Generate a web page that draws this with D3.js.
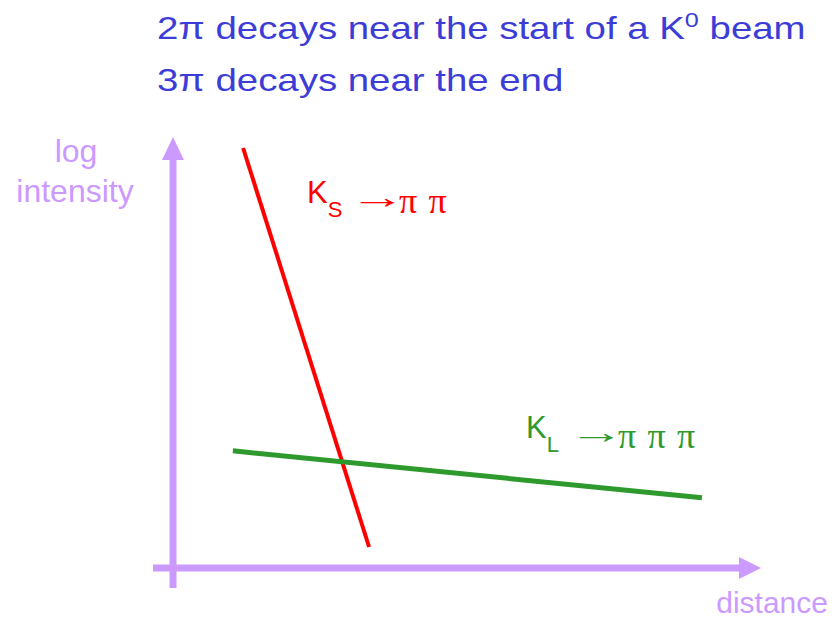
<!DOCTYPE html>
<html>
<head>
<meta charset="utf-8">
<script src="https://cdn.jsdelivr.net/npm/d3@7"></script>
<style>
  body { margin: 0; background: #fff; }
  svg { display: block; font-family: "Liberation Sans", Arial, sans-serif; }
</style>
</head>
<body>
<script>
const width = 834
const height = 618

// title lines
const titleLines = ["2π decays near the start of a K", "3π decays near the end"]

// decay lines in (distance, log intensity) units
const ksLine = [[1.23, 10.0], [3.44, 0.5]]
const klLine = [[1.05, 2.79], [9.28, 1.67]]

const axisColor = "#cc99ff"
const blue = "#3c3cd6"
const red = "#ff0000"
const green = "#2e9a2e"

const x = d3.scaleLinear().domain([0, 10]).range([173, 743])
const y = d3.scaleLinear().domain([0, 10]).range([568, 148])

const svg = d3.select("body").append("svg")
    .attr("width", width)
    .attr("height", height)

// title (text in the slide is a bit wider than plain Arial)
const title = svg.append("g")
    .attr("fill", blue).attr("font-size", 32)
    .attr("transform", "translate(157,0) scale(1.2,1)")
title.append("text")
    .attr("x", 0).attr("y", 39)
    .call(t => {
        t.append("tspan").text(titleLines[0])
        t.append("tspan").attr("font-size", 21).attr("dy", -12).text("0")
        t.append("tspan").attr("dy", 12).text(" beam")
    })
title.append("text")
    .attr("x", 0).attr("y", 91)
    .text(titleLines[1])

// axes
const ax = svg.append("g").attr("stroke", axisColor).attr("stroke-width", 7)
ax.append("line")
    .attr("x1", x(0)).attr("x2", x(0))
    .attr("y1", y(0) + 20).attr("y2", 158)
ax.append("line")
    .attr("x1", x(0) - 20).attr("x2", 741)
    .attr("y1", y(0)).attr("y2", y(0))
svg.append("path")
    .attr("fill", axisColor)
    .attr("d", `M${x(0)},137 L${x(0) + 11},160 L${x(0) - 11},160 Z`)
svg.append("path")
    .attr("fill", axisColor)
    .attr("d", `M761,${y(0)} L739,${y(0) - 11} L739,${y(0) + 11} Z`)

// axis labels
const lab = svg.append("g").attr("fill", axisColor).attr("font-size", 32)
lab.append("text").attr("x", 76).attr("y", 162).attr("text-anchor", "middle").text("log")
lab.append("text").attr("x", 75).attr("y", 202).attr("text-anchor", "middle").text("intensity")
lab.append("text").attr("x", 828).attr("y", 613).attr("font-size", 30)
    .attr("text-anchor", "end").text("distance")

// decay lines
const line = d3.line().x(d => x(d[0])).y(d => y(d[1]))
svg.append("path").datum(ksLine)
    .attr("fill", "none").attr("stroke", red).attr("stroke-width", 4)
    .attr("d", line)
svg.append("path").datum(klLine)
    .attr("fill", "none").attr("stroke", green).attr("stroke-width", 5)
    .attr("d", line)

// labels: K, subscript, then arrow and pions in one serif text
function kLabel(px, py, sub, nPi, color) {
    const g = svg.append("g").attr("fill", color)
    const t = g.append("text").attr("x", px).attr("y", py).attr("font-size", 31)
    t.append("tspan").text("K")
    t.append("tspan").attr("font-size", 22).attr("dy", 14).text(sub)
    const s = g.append("text").attr("y", py + 10)
        .attr("font-family", "Liberation Serif").attr("font-size", 36)
    // the slide arrow is long and thin: stretch the serif arrow sideways
    s.append("tspan")
        .attr("x", px + 42).attr("dy", -5).attr("font-size", 32)
        .attr("textLength", 56).attr("lengthAdjust", "spacingAndGlyphs")
        .text("→")
    for (let i = 0; i < nPi; i++) {
        s.append("tspan").attr("x", px + 92 + i * 29.5)
            .attr("dy", i === 0 ? 5 : 0).text("π")
    }
}
kLabel(307, 203, "S", 2, red)
kLabel(526, 438, "L", 3, green)
</script>
</body>
</html>
